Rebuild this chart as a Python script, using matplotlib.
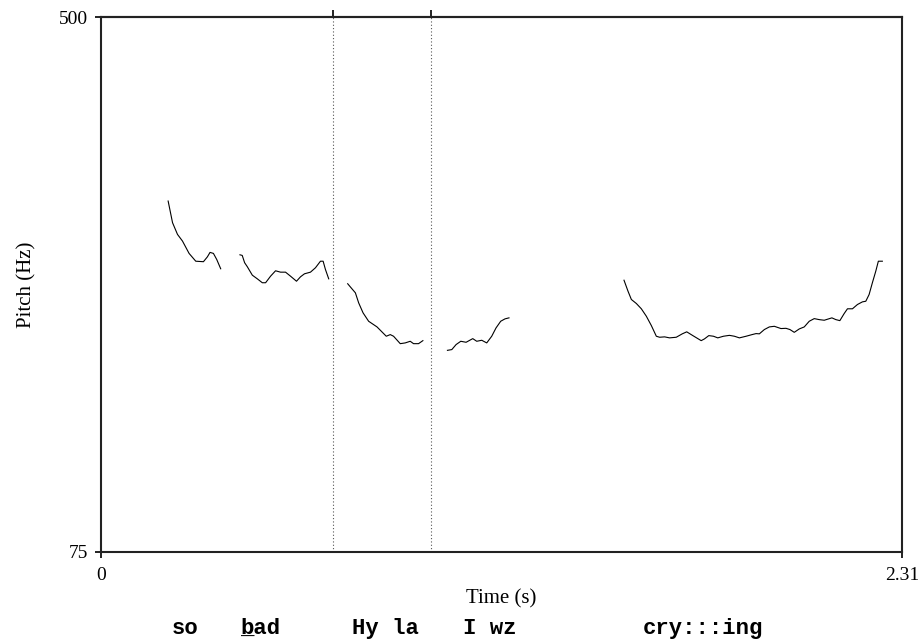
import matplotlib.pyplot as plt
from matplotlib.transforms import blended_transform_factory

# pitch contour (time in s, pitch in Hz)
seg1_t = [0.1936, 0.2063, 0.2206, 0.2350, 0.2540, 0.2733, 0.2954, 0.3069, 0.3144, 0.3242, 0.3337, 0.3452]
seg1_f = [353.8, 336.6, 327.3, 322.0, 312.2, 306.0, 305.6, 309.5, 313.0, 312.2, 307.4, 300.0]

seg2_t = [0.4007, 0.4073, 0.4142, 0.4220, 0.4364, 0.4508, 0.4652, 0.4747, 0.4890, 0.5034, 0.5178,
          0.5322, 0.5466, 0.5638, 0.5753, 0.5868, 0.6041, 0.6185, 0.6329, 0.6406, 0.6473, 0.6567]
seg2_f = [311.1, 310.6, 304.8, 301.6, 294.9, 292.0, 288.9, 288.9, 294.1, 298.4, 297.3,
          297.3, 294.1, 290.1, 293.6, 296.0, 297.3, 300.8, 306.0, 306.0, 299.4, 292.0]

seg3_t = [0.7114, 0.7212, 0.7336, 0.7431, 0.7557, 0.7718, 0.7960, 0.8227, 0.8342, 0.8437, 0.8630,
          0.8774, 0.8918, 0.9013, 0.9157, 0.9283]
seg3_f = [288.1, 284.9, 280.9, 272.9, 265.0, 258.3, 253.8, 246.4, 247.7, 246.4, 240.5,
          241.1, 242.4, 240.5, 240.5, 242.9]

seg4_t = [0.9991, 1.0117, 1.0241, 1.0376, 1.0529, 1.0721, 1.0836, 1.0980, 1.1124, 1.1268, 1.1392,
          1.1527, 1.1651, 1.1766]
seg4_f = [235.2, 235.8, 239.8, 242.4, 241.6, 244.5, 242.4, 243.2, 241.1, 246.4, 253.0,
          258.3, 260.2, 261.0]

seg5_t = [1.5083, 1.5198, 1.5295, 1.5439, 1.5583, 1.5727, 1.5871, 1.6015, 1.6110, 1.6254, 1.6397,
          1.6590, 1.6763, 1.6892, 1.7068, 1.7309, 1.7404, 1.7528, 1.7663, 1.7787, 1.7951, 1.8123,
          1.8267, 1.8411, 1.8604, 1.8776, 1.8891, 1.8986, 1.9130, 1.9274, 1.9418, 1.9610, 1.9754,
          1.9869, 1.9993, 2.0137, 2.0281, 2.0425, 2.0569, 2.0713, 2.0857, 2.1078, 2.1193, 2.1308,
          2.1432, 2.1527, 2.1671, 2.1815, 2.1958, 2.2056, 2.2151, 2.2246, 2.2344, 2.2418, 2.2533]
seg5_f = [290.9, 282.2, 275.6, 272.4, 268.2, 262.3, 254.9, 246.4, 245.6, 245.9, 245.1,
          245.6, 248.3, 249.9, 246.9, 242.9, 244.3, 246.9, 246.4, 245.1, 246.4, 247.1,
          246.4, 245.1, 246.4, 247.7, 248.5, 248.3, 251.7, 253.8, 254.3, 252.5, 252.7,
          251.7, 249.5, 252.2, 253.8, 258.3, 260.4, 259.6, 259.1, 261.0, 259.6, 258.8,
          264.4, 268.2, 268.2, 271.6, 273.7, 274.2, 279.5, 288.9, 298.1, 306.0, 306.0]

boundaries = [0.669, 0.952]
words = ["so", "bad", "Hy la", "I wz", "cry:::ing"]
word_t = [0.242, 0.461, 0.819, 1.122, 1.735]

t_max = 2.31
f_min, f_max = 75, 500

fig = plt.figure(figsize=(9.18, 6.41), dpi=100)
ax = fig.add_axes([101 / 918, 1 - 552 / 641, 801 / 918, 535 / 641])

segments = [(seg1_t, seg1_f), (seg2_t, seg2_f), (seg3_t, seg3_f), (seg4_t, seg4_f), (seg5_t, seg5_f)]
for t, f in segments:
    ax.plot(t, f, color="black", lw=0.8)

for b in boundaries:
    ax.axvline(b, color="#555555", lw=0.8, ls=(0, (1, 2)))

ax.set_xlim(0, t_max)
ax.set_ylim(f_min, f_max)
ax.set_xticks([0, t_max])
ax.set_xticklabels(["0", "2.31"])
ax.set_yticks([f_min, f_max])
ax.set_yticklabels([str(f_min), str(f_max)])

serif = "Liberation Serif"
for lab in ax.get_xticklabels() + ax.get_yticklabels():
    lab.set_family(serif)
    lab.set_fontsize(14)
ax.tick_params(axis="x", direction="out", length=4, width=1.4, pad=7, color="#222222")
ax.tick_params(axis="y", direction="out", length=4, width=1.4, pad=5, color="#222222")
for sp in ax.spines.values():
    sp.set_linewidth(1.5)
    sp.set_color("#222222")

# little ticks on top marking the boundaries
top = ax.secondary_xaxis("top")
top.set_xticks(boundaries)
top.tick_params(direction="out", length=5, width=1.4, labeltop=False, color="#222222")
top.spines["top"].set_linewidth(1.5)
top.spines["top"].set_color("#222222")

ax.set_xlabel("Time (s)", family=serif, fontsize=15)
ax.xaxis.set_label_coords(0.5, -0.069)
ax.set_ylabel("Pitch (Hz)", family=serif, fontsize=15)
ax.yaxis.set_label_coords(-0.081, 0.5)

# transcription under the plot
trans = blended_transform_factory(ax.transData, ax.transAxes)
for w, t in zip(words, word_t):
    ax.text(t, -0.1533, w, transform=trans, ha="center", va="baseline",
            family="Liberation Mono", weight="bold", fontsize=16)
# underline on the b of "bad"
ax.text(word_t[1], -0.1533, "_  ", transform=trans, ha="center", va="baseline",
        family="Liberation Mono", weight="bold", fontsize=16)

fig.savefig("out.png", dpi=100)
